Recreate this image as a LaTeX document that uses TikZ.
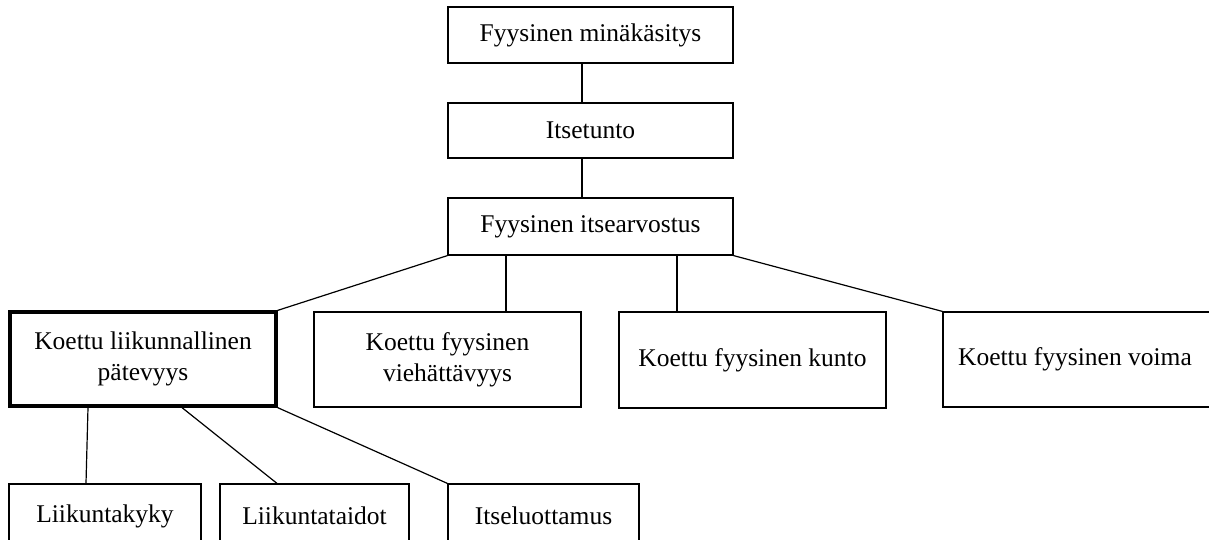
\documentclass[tikz,border=0pt]{standalone}
\usepackage{fontspec}
\setmainfont{Liberation Serif}
\begin{document}
\begin{tikzpicture}[x=1pt,y=-1pt,
  box/.style={draw, line width=1.2pt, rectangle, inner sep=0pt, align=center,
    font=\fontsize{25.5}{31}\selectfont},
  thickbox/.style={box, line width=3.2pt},
  conn/.style={line width=1.2pt}]
\useasboundingbox (0,0) rectangle (1209,539);
\node[box, minimum width=285pt, minimum height=56pt] (b1) at (590.5,35) {Fyysinen minäkäsitys};
\node[box, minimum width=285pt, minimum height=55pt] (b2) at (590.5,130.5) {Itsetunto};
\node[box, minimum width=285pt, minimum height=57pt] (b3) at (590.5,226.5) {Fyysinen itsearvostus};
\node[thickbox, minimum width=266pt, minimum height=94pt] (b4) at (143,359) {Koettu liikunnallinen\\pätevyys};
\node[box, minimum width=267pt, minimum height=95pt] (b5) at (447.5,359.5) {Koettu fyysinen\\viehättävyys};
\node[box, minimum width=267pt, minimum height=96pt] (b6) at (752.5,360) {Koettu fyysinen kunto};
\node[box, minimum width=290pt, minimum height=95pt] (b7) at (1088,359.5) {\hspace*{-26pt}Koettu fyysinen voima};
\node[box, minimum width=192pt, minimum height=64pt] (b8) at (105,516) {Liikuntakyky};
\node[box, minimum width=189pt, minimum height=64pt] (b9) at (314.5,516) {Liikuntataidot};
\node[box, minimum width=191pt, minimum height=64pt] (b10) at (543.5,516) {Itseluottamus};
\draw[conn] ([xshift=-8.5pt]b1.south) -- ([xshift=-8.5pt]b2.north);
\draw[conn] ([xshift=-8.5pt]b2.south) -- ([xshift=-8.5pt]b3.north);
\draw[conn] (b3.south west) -- (b4.north east);
\draw[conn] ([xshift=-84.5pt]b3.south) -- ([xshift=58.5pt]b5.north);
\draw[conn] ([xshift=86.5pt]b3.south) -- ([xshift=-75.5pt]b6.north);
\draw[conn] (b3.south east) -- (b7.north west);
\draw[conn] ([xshift=-55pt]b4.south) -- ([xshift=-19pt]b8.north);
\draw[conn] ([xshift=39pt]b4.south) -- ([xshift=-37.5pt]b9.north);
\draw[conn] (b4.south east) -- (b10.north west);
\end{tikzpicture}
\end{document}
